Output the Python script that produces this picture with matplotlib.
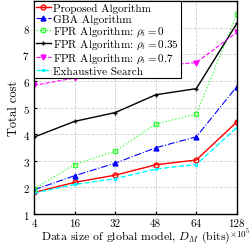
import numpy as np
import matplotlib.pyplot as plt

plt.rcParams['font.family'] = 'serif'
plt.rcParams['font.serif'] = ['cmr10', 'DejaVu Serif']
plt.rcParams['mathtext.fontset'] = 'cm'
plt.rcParams['axes.formatter.use_mathtext'] = True

# x categories (x 10^5 bits)
sizes = ['4', '16', '32', '48', '64', '128']

proposed = [1.81, 2.19, 2.46, 2.85, 3.03, 4.46]
gba = [1.91, 2.44, 2.91, 3.49, 3.90, 5.79]
fpr_0 = [1.94, 2.86, 3.36, 4.38, 4.75, 8.50]
fpr_035 = [3.89, 4.48, 4.81, 5.48, 5.71, 8.16]
fpr_07 = [5.83, 6.11, 6.25, 6.56, 6.69, 7.83]
exhaustive = [1.79, 2.11, 2.33, 2.69, 2.86, 4.25]

labels = ['Proposed Algorithm', 'GBA Algorithm',
          r'FPR Algorithm: $\rho_i=0$', r'FPR Algorithm: $\rho_i=0.35$',
          r'FPR Algorithm: $\rho_i=0.7$', 'Exhaustive Search']


def main():
    fig = plt.figure(figsize=(2.52, 2.53), dpi=100)
    ax = fig.add_axes([0.135, 0.150, 0.805, 0.842])
    x = np.arange(len(sizes))

    ax.plot(x, proposed, '-', color='red', marker='o', ms=3.5, mfc='none', lw=1.0, label=labels[0])
    ax.plot(x, gba, '-.', color='blue', marker='^', ms=3.5, lw=0.8, label=labels[1])
    ax.plot(x, fpr_0, ':', color='#33ff33', marker='s', ms=3.5, mfc='none', lw=0.9, label=labels[2])
    ax.plot(x, fpr_035, '-', color='black', marker='+', ms=3.5, lw=1.0, label=labels[3])
    ax.plot(x, fpr_07, '--', color='magenta', marker='v', ms=3.5, lw=0.8, label=labels[4])
    ax.plot(x, exhaustive, '--', color='cyan', marker='.', ms=3, lw=1.0, label=labels[5])

    ax.set_xlim(0, 5)
    ax.set_ylim(1, 9)
    ax.set_xticks(x)
    ax.set_xticklabels(sizes)
    ax.set_yticks(range(1, 9))
    ax.tick_params(labelsize=8, direction='in', length=2, pad=3)
    ax.grid(True, ls='--', color='#d0d0d0', lw=0.6)
    for s in ax.spines.values():
        s.set_linewidth(1.0)

    ax.set_xlabel(r'Data size of global model, $D_M$ (bits)', fontsize=8.5, labelpad=1)
    ax.set_ylabel('Total cost', fontsize=9, labelpad=2)
    fig.text(0.995, 0.1, r'$\times10^5$', fontsize=6.5, ha='right', va='top')

    leg = ax.legend(loc='upper left', fontsize=8, labelspacing=0.05, handlelength=1.3,
                    handletextpad=0.2, borderpad=0.2, borderaxespad=0.0,
                    fancybox=False, framealpha=1, edgecolor='black')
    leg.get_frame().set_linewidth(0.8)

    fig.savefig('out.png', dpi=100)


if __name__ == "__main__":
    main()
